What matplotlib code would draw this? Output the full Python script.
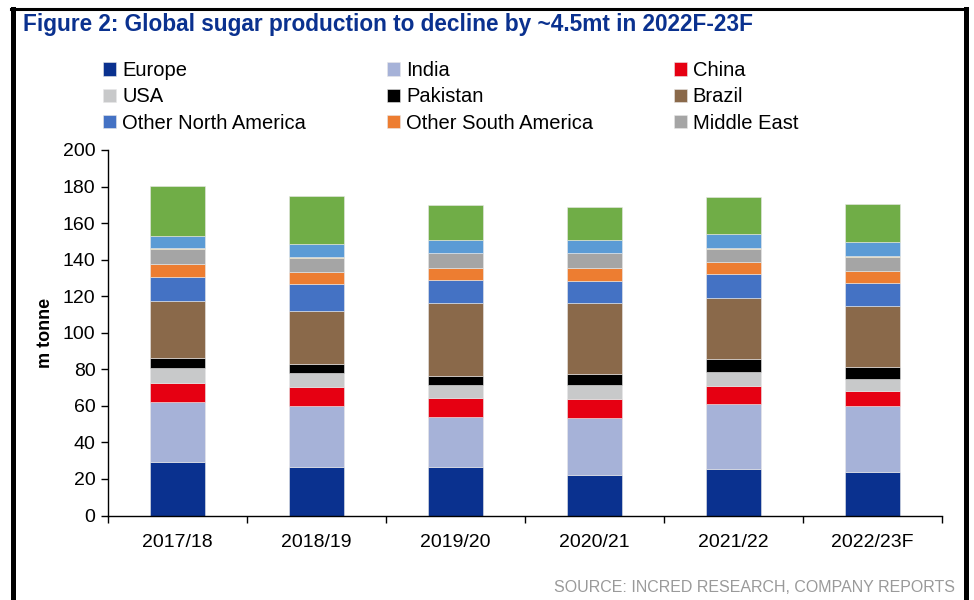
import numpy as np
import matplotlib
matplotlib.rcParams['font.family'] = ['Liberation Sans', 'DejaVu Sans']
matplotlib.rcParams['axes.linewidth'] = 1.0
import matplotlib.pyplot as plt
from matplotlib.lines import Line2D

seasons = ['2017/18', '2018/19', '2019/20', '2020/21', '2021/22', '2022/23F']

# production by region, m tonne
europe = [29.4, 26.7, 26.4, 22.0, 25.3, 24.0]
india = [32.5, 33.2, 27.5, 31.2, 35.9, 35.8]
china = [10.8, 10.4, 10.4, 10.5, 9.5, 8.5]
usa = [7.8, 7.7, 7.1, 7.9, 7.7, 6.6]
pakistan = [5.5, 4.9, 4.9, 5.8, 7.4, 6.4]
brazil = [31.4, 29.2, 39.8, 38.7, 33.4, 33.2]
other_n_america = [13.3, 14.4, 12.8, 12.4, 12.8, 12.7]
other_s_america = [6.9, 6.9, 6.7, 6.8, 6.9, 6.8]
middle_east = [8.1, 7.3, 7.9, 8.2, 7.1, 7.3]
oceania = [0.5, 0.5, 0.4, 0.4, 0.6, 0.7]
africa = [6.9, 7.5, 6.7, 6.7, 7.3, 7.5]
rest_of_world = [27.2, 26.0, 19.1, 18.2, 20.5, 20.8]

series = [
    ('Europe', europe, '#0a318f'),
    ('India', india, '#a6b2d8'),
    ('China', china, '#e60012'),
    ('USA', usa, '#c8c9ca'),
    ('Pakistan', pakistan, '#000000'),
    ('Brazil', brazil, '#8a694a'),
    ('Other North America', other_n_america, '#4472c4'),
    ('Other South America', other_s_america, '#ed7d31'),
    ('Middle East', middle_east, '#a5a5a5'),
    ('Oceania', oceania, '#d6bd62'),
    ('Africa', africa, '#5b9bd5'),
    ('Rest of World', rest_of_world, '#70ad47'),
]

fig = plt.figure(figsize=(9.74, 6), dpi=100)
ax = fig.add_axes([0.1109, 0.1408, 0.967 - 0.1109, 0.75 - 0.1408])

x = np.arange(len(seasons))
bottom = np.zeros(len(seasons))
handles = []
for name, vals, col in series:
    bars = ax.bar(x, vals, 0.4, bottom=bottom, color=col,
                  edgecolor='#e8e8e8', linewidth=0.4, label=name)
    bottom += np.array(vals)
    handles.append(bars)

ax.set_xlim(-0.5, len(seasons) - 0.5)
ax.set_ylim(0, 200)
ax.set_yticks(np.arange(0, 201, 20))
ax.set_xticks(x)
ax.set_xticklabels(seasons)
ax.set_xticks(np.arange(-0.5, len(seasons)), minor=True)
ax.tick_params(axis='x', which='major', length=0, labelsize=14, pad=13)
ax.tick_params(axis='x', which='minor', length=5, width=1, direction='out')
ax.tick_params(axis='y', length=5, width=1, labelsize=14, pad=4)
ax.spines['top'].set_visible(False)
ax.spines['right'].set_visible(False)
ax.set_ylabel('m tonne', fontsize=13, fontweight='bold', labelpad=6)

# legend only lists the first nine regions, filled row by row
order = [0, 3, 6, 1, 4, 7, 2, 5, 8]
leg = fig.legend([handles[i] for i in order], [series[i][0] for i in order],
                 ncol=3, loc='upper left', bbox_to_anchor=(0.106, 0.898),
                 frameon=False, fontsize=14.5, handlelength=0.65, handleheight=0.65,
                 handletextpad=0.3, columnspacing=4.0, labelspacing=0.36,
                 borderaxespad=0, borderpad=0)

fig.text(0.024, 0.96, 'Figure 2: Global sugar production to decline by ~4.5mt in 2022F-23F',
         fontsize=16.3, fontweight='bold', color='#0a318f', va='center', ha='left')
fig.text(0.981, 0.02, 'SOURCE: INCRED RESEARCH, COMPANY REPORTS',
         fontsize=11.5, color='#9a9a9a', ha='right', va='center')

# frame around the figure panel
fig.add_artist(Line2D([12.5 / 974, 12.5 / 974], [0, 1 - 8.5 / 600], color='black', lw=3.6))
fig.add_artist(Line2D([11 / 974, 967 / 974], [1 - 8.5 / 600, 1 - 8.5 / 600], color='black', lw=2.2))
fig.add_artist(Line2D([965.5 / 974, 965.5 / 974], [0, 1 - 8.5 / 600], color='black', lw=3.6))

plt.savefig('out.png', dpi=100)
